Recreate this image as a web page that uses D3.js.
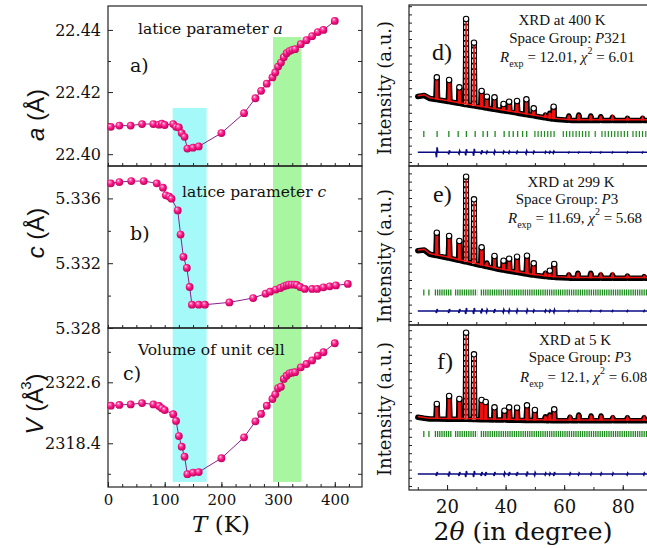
<!DOCTYPE html>
<html>
<head>
	<script src="https://cdnjs.cloudflare.com/ajax/libs/d3/7.8.2/d3.min.js"></script>
	<style>
		body { margin: 0 ; background: white ; }
		svg { display: block ; }
		.tick line { stroke: #222 ; }
	</style>
</head>
<body>
	<svg id="canvas"></svg>
</body>
<script>
	// ---- left column: lattice parameters vs temperature
	let temp_a = [ 5, 20, 40, 60, 80, 90, 95, 100, 115, 120, 125, 130, 135, 140, 150, 160, 200, 240, 260, 270,
		280, 290, 295, 300, 305, 310, 315, 320, 325, 330, 340, 350, 360, 370, 380, 400 ] ;
	let lattice_a = [ 22.4088, 22.4092, 22.4092, 22.4097, 22.4097, 22.4095, 22.4098, 22.4094, 22.4097, 22.4088,
		22.4086, 22.4068, 22.4056, 22.4018, 22.4021, 22.4025, 22.4068, 22.4132, 22.4180, 22.4204,
		22.4227, 22.4247, 22.4263, 22.4282, 22.4295, 22.4312, 22.4325, 22.4332, 22.4336, 22.4338,
		22.4354, 22.4367, 22.4380, 22.4393, 22.4400, 22.4429 ] ;

	let temp_c = [ 5, 20, 41, 63, 86, 97, 102, 108, 112, 123, 128, 133, 139, 144, 148, 160, 171, 214, 256, 278,
		286, 296, 304, 310, 315, 319, 324, 329, 333, 339, 347, 360, 369, 380, 391, 402, 423 ] ;
	let lattice_c = [ 5.33693, 5.33701, 5.33707, 5.33707, 5.33693, 5.33666, 5.33619, 5.33611, 5.33598, 5.33526,
		5.33377, 5.33239, 5.33171, 5.33053, 5.32944, 5.32944, 5.32944, 5.32958, 5.32985, 5.33012,
		5.33024, 5.33037, 5.33047, 5.33057, 5.33063, 5.33068, 5.33068, 5.33068, 5.33066, 5.33053,
		5.33041, 5.33041, 5.33041, 5.33051, 5.33057, 5.33063, 5.33072 ] ;

	let temp_v = [ 5, 20, 40, 60, 80, 90, 95, 100, 115, 120, 125, 130, 135, 140, 150, 160, 200, 240, 260, 270,
		280, 290, 295, 300, 305, 310, 315, 320, 325, 330, 340, 350, 360, 370, 380, 400 ] ;
	let volume = [ 2320.99, 2321.04, 2321.08, 2321.17, 2321.08, 2320.97, 2320.81, 2320.69, 2320.40, 2319.94,
		2318.90, 2318.17, 2317.48, 2316.27, 2316.38, 2316.42, 2317.37, 2318.81, 2319.91, 2320.42,
		2320.99, 2321.45, 2321.77, 2322.19, 2322.30, 2322.83, 2323.05, 2323.22, 2323.26, 2323.30,
		2323.63, 2323.86, 2324.11, 2324.43, 2324.67, 2325.29 ] ;

	// shaded transition regions (K), their top in panel a and bottom in panel c
	let band_t = [ [ 114, 174 ], [ 291, 341 ] ] ;
	let band_top_a = [ 22.4149, 22.4377 ] ;
	let band_bottom_v = [ 2315.74, 2315.74 ] ;

	let ticks_a = [ 22.40, 22.42, 22.44 ] ;
	let minor_a = [ 22.41, 22.43 ] ;
	let ticks_c = [ 5.328, 5.332, 5.336 ] ;
	let minor_c = [ 5.330, 5.334 ] ;
	let ticks_v = [ 2318.4, 2322.6 ] ;
	let minor_v = [ 2316.3, 2320.5, 2324.7 ] ;
	let ticks_t = [ 0, 100, 200, 300, 400 ] ;

	// ---- right column: XRD patterns (arbitrary intensity units)
	let bg_angle = [ 10, 12.2, 14.1, 20.4, 26.1, 37.6, 49, 55.9, 62.7, 90 ] ;
	let bg_400 = [ 69.5, 70.5, 67.5, 64.5, 61.5, 56, 50.5, 47, 45.5, 45.5 ] ;
	let bg_299 = [ 74.3, 75, 70.7, 67, 63.3, 55.7, 50, 47.7, 46.7, 46.7 ] ;
	let bg_5 = [ 72.7, 71.7, 71, 70.8, 70.7, 70, 69.5, 69.3, 69.3, 69.3 ] ;

	let peak_400 = [ 16.5, 20.7, 24.2, 26.5, 29.2, 31.8, 33.6, 36.2, 39.3, 41.2, 43.9, 47.1, 49.6, 53.6, 55.1, 56.4,
		61.6, 65.0, 69.1, 72.5, 76.5, 81.6, 86.8 ] ;
	let top_400 = [ 88.7, 86, 78.7, 147, 123.3, 75, 69.3, 68.7, 62, 64.3, 65, 66.7, 57.7, 51, 52.7, 59.3,
		50, 51, 50, 49.3, 48.7, 47.7, 47.7 ] ;
	let diff_400 = [ 5, 2, 1.5, 3, 3.5, 2, 1, 1.5, 1, 1, 1, 1.5, 1, 0.8, 0.8, 1, 0.5, 0.5, 0.5, 0.5, 0.5, 0.5, 0.5 ] ;

	let peak_299 = [ 16.5, 20.7, 24.2, 26.5, 29.2, 31.8, 33.6, 36.2, 39.3, 41.2, 43.9, 47.3, 49.6, 53.6, 55.1, 56.6,
		61.6, 64.7, 69.1, 72.5, 76.5, 81.6, 87.3 ] ;
	let top_299 = [ 92.3, 89, 84, 148.3, 125.7, 77.7, 62, 69, 64.3, 66.3, 68.3, 69.3, 61.7, 51.7, 54.3, 61,
		50, 51.7, 51.7, 50, 50, 49, 48.3 ] ;
	let diff_299 = [ 2, 2, 2, 3, 3, 2.5, 1.5, 2, 1.5, 1.5, 1.5, 1.5, 1, 1, 1, 1.5, 0.5, 0.5, 0.5, 0.5, 0.5, 0.5, 0.5 ] ;

	let peak_5 = [ 16.5, 20.7, 24.2, 26.5, 29.2, 31.8, 33.2, 36.2, 39.6, 41.2, 43.9, 47.3, 50.0, 53.6, 55.1, 56.6,
		62.0, 65.0, 69.2, 72.6, 76.6, 81.6, 87.3 ] ;
	let top_5 = [ 86, 94, 91, 157.3, 135.7, 90, 88, 82.7, 79.3, 82.7, 82.3, 84.7, 80, 73.3, 75, 80.7,
		72.7, 75, 74, 74, 72.3, 72.3, 72.3 ] ;
	let diff_5 = [ 2, 2.5, 2, 3, 3, 2, 2, 2, 1.5, 2, 2, 2.5, 1.5, 1, 1, 2, 1, 1, 1, 1, 1, 1, 1 ] ;

	// Bragg reflections: single ticks and dense runs of ticks
	let bragg_400 = [ 12.06, 16.6, 20.6, 23.8, 26.6, 29.6, 32.3, 33.8, 36.4, 39.5, 41.2, 42.6, 44.1, 45.8, 47.2 ] ;
	let bragg_run_400 = [ [ 49.8, 57.3 ], [ 59.5, 69.2 ], [ 70.4, 71.5 ], [ 72.7, 82.4 ], [ 83.3, 90 ] ] ;
	let bragg_299 = [ 12.06, 13.8 ] ;
	let bragg_run_299 = [ [ 15.8, 21.8 ], [ 22.7, 30.3 ], [ 31.5, 90 ] ] ;
	let bragg_5 = [ 12.06, 13.8 ] ;
	let bragg_run_5 = [ [ 15.8, 21.8 ], [ 22.7, 30.3 ], [ 31.5, 90 ] ] ;

	// offsets of the Bragg row and difference curve (intensity units)
	let bragg_level = [ 32, 32.5, 56 ] ;
	let diff_level = [ 13.7, 14, 16 ] ;
	let ticks_2t = [ 20, 40, 60, 80 ] ;
</script>
<script>
	let geom = {
		width: 647,
		height: 548,
		left: { x0: 108, x1: 362, rows: [ [ 6, 166 ], [ 166, 328 ], [ 328, 487 ] ] },
		right: { x0: 409, x1: 652, rows: [ [ 5, 166 ], [ 166, 325 ], [ 325, 490 ] ] }
	} ;
	let serif = "'DejaVu Serif', serif" ;
	let times = "'Liberation Serif', serif" ;
	let sans = "'Liberation Sans', Arial, sans-serif" ;

	let svg = d3.select( '#canvas' )
		.attr( 'width', geom.width )
		.attr( 'height', geom.height ) ;

	let grad = svg.append( 'defs' ).append( 'radialGradient' )
		.attr( 'id', 'ball' )
		.attr( 'cx', '45%' ).attr( 'cy', '45%' ).attr( 'r', '60%' )
		.attr( 'fx', '35%' ).attr( 'fy', '30%' ) ;
	[ [ '0%', '#ffffff' ], [ '20%', '#ff6fb8' ], [ '55%', '#f5127f' ], [ '100%', '#b8005c' ] ].forEach( s => {
		grad.append( 'stop' ).attr( 'offset', s[0] ).attr( 'stop-color', s[1] ) ;
	} ) ;

	// ================= left column =================
	let xT = d3.scaleLinear().domain( [ 0, 448 ] ).range( [ geom.left.x0, geom.left.x1 ] ) ;
	let rows = geom.left.rows ;
	let left = [
		{ t: temp_a, v: lattice_a, dom: [ 22.3962, 22.4477 ], ticks: ticks_a, minor: minor_a, fmt: d3.format( '.2f' ) },
		{ t: temp_c, v: lattice_c, dom: [ 5.328, 5.338 ], ticks: ticks_c, minor: minor_c, fmt: d3.format( '.3f' ) },
		{ t: temp_v, v: volume, dom: [ 2315.39, 2326.34 ], ticks: ticks_v, minor: minor_v, fmt: d3.format( '.1f' ) }
	] ;
	left.forEach( ( p, i ) => {
		p.y = d3.scaleLinear().domain( p.dom ).range( [ rows[i][1], rows[i][0] ] ) ;
	} ) ;

	// bands first
	left.forEach( ( p, i ) => {
		band_t.forEach( ( b, k ) => {
			let top = i == 0 ? p.y( band_top_a[k] ) : rows[i][0] ;
			let bot = i == 2 ? p.y( band_bottom_v[k] ) : rows[i][1] ;
			svg.append( 'rect' )
				.attr( 'x', xT( b[0] ) ).attr( 'width', xT( b[1] ) - xT( b[0] ) )
				.attr( 'y', top ).attr( 'height', bot - top )
				.attr( 'fill', k == 0 ? '#a6f9f9' : '#a8f5a2' ) ;
		} ) ;
	} ) ;

	left.forEach( ( p, i ) => {
		let g = svg.append( 'g' ) ;
		g.append( 'g' )
			.attr( 'transform', 'translate(' + geom.left.x0 + ',0)' )
			.call( d3.axisLeft( p.y ).tickValues( p.ticks ).tickSize( -5 ).tickPadding( 7 ).tickFormat( p.fmt ) )
			.call( a => a.select( '.domain' ).remove() )
			.selectAll( 'text' ).attr( 'font-family', serif ).attr( 'font-size', 16 ).attr( 'fill', '#111' ) ;
		g.append( 'g' )
			.attr( 'transform', 'translate(' + geom.left.x0 + ',0)' )
			.call( d3.axisLeft( p.y ).tickValues( p.minor ).tickSize( -3 ).tickFormat( '' ) )
			.call( a => a.select( '.domain' ).remove() ) ;
		g.append( 'g' )
			.attr( 'transform', 'translate(' + geom.left.x1 + ',0)' )
			.call( d3.axisRight( p.y ).tickValues( p.ticks.concat( p.minor ) ).tickSize( -4 ).tickFormat( '' ) )
			.call( a => a.select( '.domain' ).remove() ) ;
		g.append( 'g' )
			.attr( 'transform', 'translate(0,' + rows[i][1] + ')' )
			.call( d3.axisBottom( xT ).tickValues( d3.range( 0, 449, 25 ) ).tickSize( -3 ).tickFormat( '' ) )
			.call( a => a.select( '.domain' ).remove() ) ;
		g.append( 'rect' )
			.attr( 'x', geom.left.x0 ).attr( 'y', rows[i][0] )
			.attr( 'width', geom.left.x1 - geom.left.x0 ).attr( 'height', rows[i][1] - rows[i][0] )
			.attr( 'fill', 'none' ).attr( 'stroke', '#222' ).attr( 'stroke-width', 1.2 ) ;

		let pts = p.t.map( ( t, k ) => [ t, p.v[k] ] ) ;
		g.append( 'path' )
			.attr( 'd', d3.line().x( d => xT( d[0] ) ).y( d => p.y( d[1] ) )( pts ) )
			.attr( 'fill', 'none' ).attr( 'stroke', '#8a1f8f' ).attr( 'stroke-width', 1 ) ;
		g.selectAll( 'circle' ).data( pts ).join( 'circle' )
			.attr( 'cx', d => xT( d[0] ) ).attr( 'cy', d => p.y( d[1] ) )
			.attr( 'r', 3.9 ).attr( 'fill', 'url(#ball)' ) ;
	} ) ;

	// x axis labels of the bottom-left panel
	svg.append( 'g' )
		.attr( 'transform', 'translate(0,' + rows[2][1] + ')' )
		.call( d3.axisBottom( xT ).tickValues( ticks_t ).tickSize( -5 ).tickPadding( 7 ) )
		.call( a => a.select( '.domain' ).remove() )
		.selectAll( 'text' ).attr( 'font-family', serif ).attr( 'font-size', 15 ).attr( 'fill', '#111' ) ;

	let txt = ( x, y, size, family, anchor ) => svg.append( 'text' )
		.attr( 'x', x ).attr( 'y', y ).attr( 'font-size', size )
		.attr( 'font-family', family ).attr( 'text-anchor', anchor || 'start' ).attr( 'fill', '#111' ) ;

	let t1 = txt( 138, 34, 15.5, serif ) ;
	t1.append( 'tspan' ).text( 'latice parameter ' ) ;
	t1.append( 'tspan' ).attr( 'font-style', 'italic' ).text( 'a' ) ;
	let t2 = txt( 182, 197, 15.5, serif ) ;
	t2.append( 'tspan' ).text( 'latice parameter ' ) ;
	t2.append( 'tspan' ).attr( 'font-style', 'italic' ).text( 'c' ) ;
	txt( 138, 355, 15.5, serif ).text( 'Volume of unit cell' ) ;
	txt( 130, 72, 19, serif ).text( 'a)' ) ;
	txt( 130, 240, 19, serif ).text( 'b)' ) ;
	txt( 123, 380, 19, serif ).text( 'c)' ) ;

	let ylab = ( x, y, sym ) => {
		let t = svg.append( 'text' )
			.attr( 'transform', 'translate(' + x + ',' + y + ') rotate(-90)' )
			.attr( 'text-anchor', 'middle' ).attr( 'font-family', sans ).attr( 'font-size', 24 ).attr( 'fill', '#111' ) ;
		t.append( 'tspan' ).attr( 'font-style', 'italic' ).text( sym ) ;
		t.append( 'tspan' ).text( ' (Å' ) ;
		return t ;
	} ;
	ylab( 44, 115, 'a' ).append( 'tspan' ).text( ')' ) ;
	ylab( 44, 233, 'c' ).append( 'tspan' ).text( ')' ) ;
	let vl = ylab( 43, 404, 'V' ) ;
	vl.append( 'tspan' ).attr( 'font-size', 15 ).attr( 'dy', -12 ).attr( 'dx', -2 ).text( '3' ) ;
	vl.append( 'tspan' ).attr( 'dy', 12 ).text( ')' ) ;

	let xl = txt( 221, 532, 23, serif, 'middle' ) ;
	xl.append( 'tspan' ).attr( 'font-style', 'italic' ).text( 'T' ) ;
	xl.append( 'tspan' ).text( ' (K)' ) ;

	// ================= right column =================
	let x2 = d3.scaleLinear().domain( [ 7, 90 ] ).range( [ geom.right.x0, geom.right.x1 ] ) ;
	let rrows = geom.right.rows ;
	let xrd = [
		{ bg: bg_400, pos: peak_400, top: top_400, diff: diff_400, bragg: bragg_400, run: bragg_run_400, dash: '1.2 2' },
		{ bg: bg_299, pos: peak_299, top: top_299, diff: diff_299, bragg: bragg_299, run: bragg_run_299, dash: '1.3 0.9' },
		{ bg: bg_5, pos: peak_5, top: top_5, diff: diff_5, bragg: bragg_5, run: bragg_run_5, dash: '1.3 0.9' }
	] ;

	xrd.forEach( ( p, i ) => {
		let r = rrows[i] ;
		let y = d3.scaleLinear().domain( [ 0, r[1] - r[0] ] ).range( [ r[1], r[0] ] ) ;
		let base = d3.scaleLinear().domain( bg_angle ).range( p.bg ) ;
		let line = d3.line().x( d => x2( d[0] ) ).y( d => y( d[1] ) ) ;
		let g = svg.append( 'g' ) ;

		// frame and ticks
		g.append( 'g' )
			.attr( 'transform', 'translate(' + geom.right.x0 + ',0)' )
			.call( d3.axisLeft( y ).tickValues( d3.range( 4, r[1] - r[0], 8.2 ) ).tickSize( -3 ).tickFormat( '' ) )
			.call( a => a.select( '.domain' ).remove() ) ;
		g.append( 'g' )
			.attr( 'transform', 'translate(0,' + r[1] + ')' )
			.call( d3.axisBottom( x2 ).tickValues( d3.range( 10, 91, 10 ) ).tickSize( -3 ).tickFormat( '' ) )
			.call( a => a.select( '.domain' ).remove() ) ;
		g.append( 'rect' )
			.attr( 'x', geom.right.x0 ).attr( 'y', r[0] )
			.attr( 'width', geom.right.x1 - geom.right.x0 ).attr( 'height', r[1] - r[0] )
			.attr( 'fill', 'none' ).attr( 'stroke', '#222' ).attr( 'stroke-width', 1.2 ) ;

		// observed (black, open circles) and calculated (red) profile
		let prof = bg_angle.map( ( a, k ) => [ a, p.bg[k] ] ) ;
		p.pos.forEach( ( a, k ) => {
			prof.push( [ a - 0.3, base( a - 0.3 ) ], [ a, p.top[k] ], [ a + 0.3, base( a + 0.3 ) ] ) ;
		} ) ;
		prof.sort( ( a, b ) => a[0] - b[0] ) ;
		let cols = p.pos.map( ( a, k ) => [ [ a, base( a ) ], [ a, p.top[k] ] ] ) ;
		let tall = cols.filter( c => c[1][1] - c[0][1] > 35 ) ;
		let small = cols.filter( c => c[1][1] - c[0][1] <= 35 ) ;
		let tops = cols.filter( c => c[1][1] - c[0][1] > 6 ) ;

		g.append( 'path' ).attr( 'd', line( prof ) )
			.attr( 'fill', 'none' ).attr( 'stroke', '#000' ).attr( 'stroke-width', 5.5 ).attr( 'stroke-linejoin', 'round' )
			.attr( 'stroke-linecap', 'round' ) ;
		g.selectAll( 'path.col' ).data( cols ).join( 'path' ).attr( 'class', 'col' )
			.attr( 'd', line ).attr( 'fill', 'none' ).attr( 'stroke', '#000' ).attr( 'stroke-width', 6 ) ;
		g.selectAll( 'path.colw' ).data( tall ).join( 'path' ).attr( 'class', 'colw' )
			.attr( 'd', line ).attr( 'fill', 'none' ).attr( 'stroke', '#fff' ).attr( 'stroke-width', 3.8 )
			.attr( 'stroke-dasharray', '3.6 1.8' ) ;
		g.selectAll( 'path.colr' ).data( small ).join( 'path' ).attr( 'class', 'colr' )
			.attr( 'd', line ).attr( 'fill', 'none' ).attr( 'stroke', '#f01010' ).attr( 'stroke-width', 3 ) ;
		g.append( 'path' ).attr( 'd', line( prof ) )
			.attr( 'transform', 'translate(0,-0.8)' )
			.attr( 'fill', 'none' ).attr( 'stroke', '#f01010' ).attr( 'stroke-width', 1.5 ) ;
		g.selectAll( 'circle' ).data( tops ).join( 'circle' )
			.attr( 'cx', d => x2( d[1][0] ) ).attr( 'cy', d => y( d[1][1] ) )
			.attr( 'r', 2.7 ).attr( 'fill', '#fff' ).attr( 'stroke', '#000' ).attr( 'stroke-width', 1.1 ) ;

		// Bragg positions
		let by = y( bragg_level[i] ) ;
		g.selectAll( 'line.bragg' ).data( p.bragg ).join( 'line' ).attr( 'class', 'bragg' )
			.attr( 'x1', d => x2( d ) ).attr( 'x2', d => x2( d ) )
			.attr( 'y1', by - 3 ).attr( 'y2', by + 3 )
			.attr( 'stroke', '#1d8a1d' ).attr( 'stroke-width', 1.3 ) ;
		g.selectAll( 'line.run' ).data( p.run ).join( 'line' ).attr( 'class', 'run' )
			.attr( 'x1', d => x2( d[0] ) ).attr( 'x2', d => x2( d[1] ) )
			.attr( 'y1', by ).attr( 'y2', by )
			.attr( 'stroke', '#1d8a1d' ).attr( 'stroke-width', 6 ).attr( 'stroke-dasharray', p.dash ) ;

		// difference curve
		let dl = diff_level[i] ;
		let diff = [ [ 10, dl ] ] ;
		p.pos.forEach( ( a, k ) => {
			diff.push( [ a - 0.35, dl ], [ a - 0.1, dl - p.diff[k] ], [ a + 0.1, dl + p.diff[k] ], [ a + 0.35, dl ] ) ;
		} ) ;
		diff.push( [ 90, dl ] ) ;
		g.append( 'path' ).attr( 'd', line( diff ) )
			.attr( 'fill', 'none' ).attr( 'stroke', '#0a0a85' ).attr( 'stroke-width', 1.6 ) ;
	} ) ;

	svg.append( 'g' )
		.attr( 'transform', 'translate(0,' + rrows[2][1] + ')' )
		.call( d3.axisBottom( x2 ).tickValues( ticks_2t ).tickSize( -5 ).tickPadding( 10 ) )
		.call( a => a.select( '.domain' ).remove() )
		.selectAll( 'text' ).attr( 'font-family', serif ).attr( 'font-size', 18 ).attr( 'fill', '#111' ) ;

	// intensity labels
	[ 88, 256, 409 ].forEach( yc => {
		svg.append( 'text' )
			.attr( 'transform', 'translate(391,' + yc + ') rotate(-90)' )
			.attr( 'text-anchor', 'middle' ).attr( 'font-family', serif ).attr( 'font-size', 18 ).attr( 'fill', '#111' )
			.text( 'Intensity (a.u.)' ) ;
	} ) ;

	let x2l = txt( 523, 540, 25, serif, 'middle' ) ;
	x2l.append( 'tspan' ).text( '2' ) ;
	x2l.append( 'tspan' ).attr( 'font-style', 'italic' ).text( 'θ' ) ;
	x2l.append( 'tspan' ).text( ' (in degree)' ) ;

	// annotations of the XRD panels
	let notes = [
		{ title: 'XRD at 400 K', group: '321', r: '12.01', chi: '6.01', lab: 'd)', y: [ 25, 43, 62, 60 ], x: [ 562, 568, 500, 432 ] },
		{ title: 'XRD at 299 K', group: '3', r: '11.69', chi: '5.68', lab: 'e)', y: [ 187, 204, 223, 202 ], x: [ 571, 567, 508, 433 ] },
		{ title: 'XRD at 5 K', group: '3', r: '12.1', chi: '6.08', lab: 'f)', y: [ 345, 362, 382, 369 ], x: [ 575, 580, 520, 437 ] }
	] ;
	notes.forEach( n => {
		txt( n.x[0], n.y[0], 15, times, 'middle' ).text( n.title ) ;
		let sg = txt( n.x[1], n.y[1], 15, times, 'middle' ) ;
		sg.append( 'tspan' ).text( 'Space Group: ' ) ;
		sg.append( 'tspan' ).attr( 'font-style', 'italic' ).text( 'P' ) ;
		sg.append( 'tspan' ).text( n.group ) ;
		let rl = txt( n.x[2], n.y[2], 15, times ) ;
		rl.append( 'tspan' ).attr( 'font-style', 'italic' ).text( 'R' ) ;
		rl.append( 'tspan' ).attr( 'font-size', 10 ).attr( 'dy', 5 ).text( 'exp' ) ;
		rl.append( 'tspan' ).attr( 'dy', -5 ).text( ' = ' + n.r + ', ' ) ;
		rl.append( 'tspan' ).attr( 'font-style', 'italic' ).text( 'χ' ) ;
		rl.append( 'tspan' ).attr( 'font-size', 10 ).attr( 'dy', -8 ).text( '2' ) ;
		rl.append( 'tspan' ).attr( 'dy', 8 ).text( ' = ' + n.chi ) ;
		txt( n.x[3], n.y[3], 24, times ).text( n.lab ) ;
	} ) ;
</script>
</html>
